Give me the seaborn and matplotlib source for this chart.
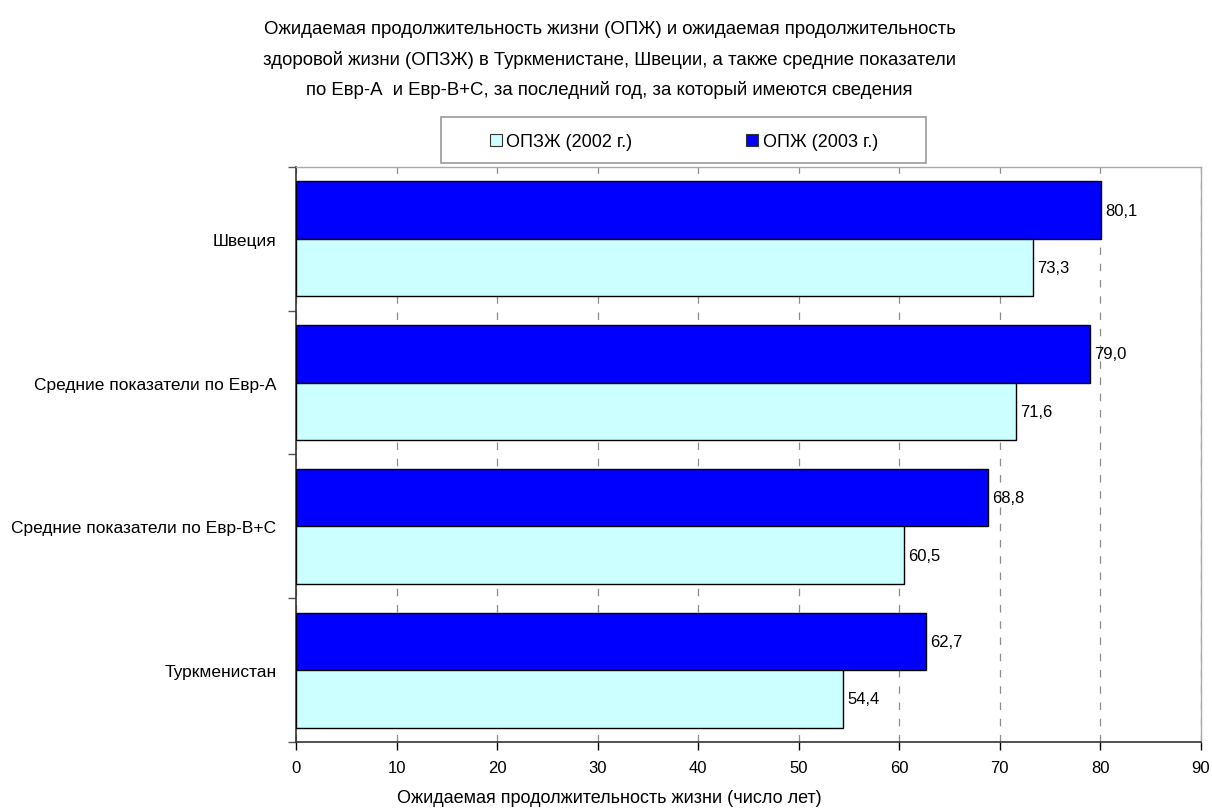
import matplotlib
matplotlib.use("Agg")
import matplotlib.pyplot as plt
import seaborn as sns
import pandas as pd
from matplotlib.patches import Patch, Rectangle

categories = ["Швеция", "Средние показатели по Евр-А",
              "Средние показатели по Евр-B+C", "Туркменистан"]
lifeexp_2003 = [80.1, 79.0, 68.8, 62.7]      # ОПЖ (2003 г.)
healthy_2002 = [73.3, 71.6, 60.5, 54.4]      # ОПЗЖ (2002 г.)
series_names = ["ОПЖ (2003 г.)", "ОПЗЖ (2002 г.)"]
x_ticks = [0, 10, 20, 30, 40, 50, 60, 70, 80, 90]

title = ("Ожидаемая продолжительность жизни (ОПЖ) и ожидаемая продолжительность\n"
         "здоровой жизни (ОПЗЖ) в Туркменистане, Швеции, а также средние показатели\n"
         "по Евр-А  и Евр-B+C, за последний год, за который имеются сведения")
xlabel = "Ожидаемая продолжительность жизни (число лет)"

df = pd.DataFrame({
    "cat": categories * 2,
    "series": [series_names[0]] * 4 + [series_names[1]] * 4,
    "value": lifeexp_2003 + healthy_2002,
})

sns.set_style("white")
plt.rcParams["font.family"] = ["Liberation Sans", "DejaVu Sans"]
plt.rcParams["text.color"] = "black"
plt.rcParams["xtick.color"] = "black"
plt.rcParams["ytick.color"] = "black"

colors = {series_names[0]: "#0000FF", series_names[1]: "#CCFFFF"}

fig = plt.figure(figsize=(12.12, 8.12), dpi=100)
ax = fig.add_axes([0.2442, 0.0850, 0.9909 - 0.2442, 0.7931 - 0.0850])

sns.barplot(data=df, y="cat", x="value", hue="series", order=categories,
            hue_order=series_names, palette=colors, saturation=1, orient="h",
            width=0.8, edgecolor="black", linewidth=1.0, ax=ax, legend=False,
            zorder=3)

for cont in ax.containers:
    ax.bar_label(cont, labels=[f"{b.get_width():.1f}".replace(".", ",") for b in cont],
                 padding=3, fontsize=12, color="black")

ax.set_xlim(0, 90)
ax.set_ylim(len(categories) - 0.5, -0.5)
ax.set_xticks(x_ticks)
ax.set_xticklabels([str(t) for t in x_ticks], fontsize=12)
ax.xaxis.grid(True, linestyle=(0, (6, 7)), color="#8c8c8c", linewidth=0.9, zorder=0)
ax.yaxis.grid(False)

# category labels at group centres, tick marks at group boundaries
ax.set_yticks(range(len(categories)))
ax.set_yticklabels(categories, fontsize=12.5)
ax.tick_params(axis="y", length=0, pad=14)
ax.set_yticks([i - 0.5 for i in range(len(categories) + 1)], minor=True)
ax.tick_params(axis="y", which="minor", length=6, width=1, color="#555555",
               direction="out", left=True)
ax.tick_params(axis="x", length=6, width=1, color="black", direction="out",
               bottom=True, pad=7)
ax.set_xlabel("")
ax.set_ylabel("")

for side in ["left", "bottom"]:
    ax.spines[side].set_color("#333333")
    ax.spines[side].set_linewidth(1.2)
for side in ["top", "right"]:
    ax.spines[side].set_color("#aaaaaa")
    ax.spines[side].set_linewidth(1.0)

fig.text(0.503, 0.926, title, ha="center", va="center", fontsize=13.4,
         linespacing=1.9, color="black")
fig.text(0.503, 0.006, xlabel, ha="center", va="bottom", fontsize=13, color="black")

# legend frame and entries
fig.patches.append(Rectangle((441 / 1212, 1 - 164 / 812), 485 / 1212, 46 / 812,
                             transform=fig.transFigure, facecolor="white",
                             edgecolor="#9a9a9a", linewidth=1.2, zorder=1))
handles = [Patch(facecolor=colors[series_names[1]], edgecolor="#333333", linewidth=0.8),
           Patch(facecolor=colors[series_names[0]], edgecolor="#333333", linewidth=0.8)]
leg = fig.legend(handles, [series_names[1], series_names[0]], ncol=2,
                 loc="center", bbox_to_anchor=(0.5644, 0.8239), fontsize=13,
                 frameon=False, handlelength=0.65, handleheight=0.65,
                 handletextpad=0.25, columnspacing=6.3, borderpad=0.2)
leg.set_zorder(2)
for t in leg.get_texts():
    t.set_color("black")

fig.savefig("out.png", dpi=100)
